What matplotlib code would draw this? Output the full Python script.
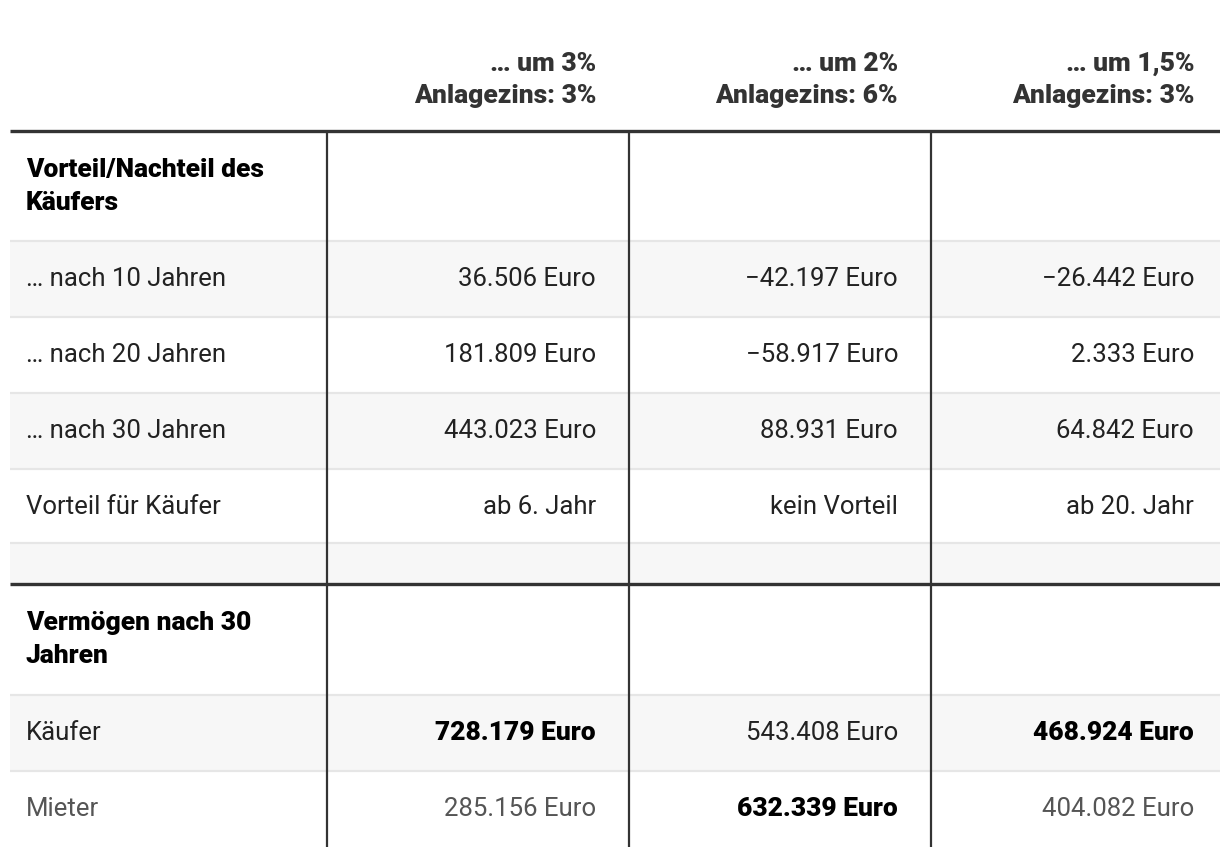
import matplotlib
matplotlib.use("Agg")
import matplotlib.pyplot as plt
from matplotlib.patches import Rectangle

plt.rcParams['font.family'] = ['Roboto', 'DejaVu Sans']

# ---------------- data ----------------
col_head_1 = ['… um 3%', '… um 2%', '… um 1,5%']
col_head_2 = ['Anlagezins: 3%', 'Anlagezins: 6%', 'Anlagezins: 3%']

section_1 = ['Vorteil/Nachteil des', 'Käufers']
diff_labels = ['… nach 10 Jahren', '… nach 20 Jahren', '… nach 30 Jahren']
diff_10 = [36506, -42197, -26442]
diff_20 = [181809, -58917, 2333]
diff_30 = [443023, 88931, 64842]
advantage_label = 'Vorteil für Käufer'
advantage = ['ab 6. Jahr', 'kein Vorteil', 'ab 20. Jahr']

section_2 = ['Vermögen nach 30', 'Jahren']
wealth_labels = ['Käufer', 'Mieter']
wealth_buyer = [728179, 543408, 468924]
wealth_renter = [285156, 632339, 404082]


def fmt(v):
    s = f"{abs(v):,}".replace(',', '.')
    return ('\u2212' if v < 0 else '') + s + ' Euro'


# ---------------- layout ----------------
W, H = 1220, 856
fig = plt.figure(figsize=(W / 100, H / 100), dpi=100)
ax = fig.add_axes([0, 0, 1, 1])
ax.set_xlim(0, W)
ax.set_ylim(H, 0)
ax.axis('off')

x_left = 10
x_right = W
col_edges = [327, 629, 931]
col_text_right = [596, 898, 1194]
label_x = 26

DARK = '#333333'
TEXT = '#222222'
LIGHT_TEXT = '#555555'
GRID = '#e6e6e6'
ROW_BG = '#f7f7f7'
FS = 19
FS_BODY = 18.5
BOLD = 'heavy'
LIGHTW = 'normal'

# header
for i in range(3):
    ax.text(col_text_right[i], 71, col_head_1[i], ha='right', va='baseline',
            fontsize=FS, fontweight=BOLD, color=DARK)
    ax.text(col_text_right[i], 103, col_head_2[i], ha='right', va='baseline',
            fontsize=FS, fontweight=BOLD, color=DARK)

# rows: (kind, top, bottom, label, values, shaded)
rows = []
rows.append(('section', 131, 241, section_1, None, False))
diff_values = [diff_10, diff_20, diff_30]
tops = [241, 317, 393]
for k in range(3):
    rows.append(('body', tops[k], tops[k] + 76, diff_labels[k],
                 [fmt(v) for v in diff_values[k]], k % 2 == 0))
rows.append(('body', 469, 543, advantage_label, advantage, False))
rows.append(('empty', 543, 584, None, None, True))
rows.append(('section', 584, 695, section_2, None, False))
rows.append(('wealth', 695, 771, wealth_labels[0], wealth_buyer, True))
rows.append(('wealth', 771, 847, wealth_labels[1], wealth_renter, False))

for kind, top, bot, label, vals, shaded in rows:
    if shaded:
        ax.add_patch(Rectangle((x_left, top), x_right - x_left, bot - top,
                               facecolor=ROW_BG, edgecolor='none', zorder=0))
    if kind == 'section':
        ax.text(label_x, top + 46, label[0], ha='left', va='baseline',
                fontsize=FS, fontweight=BOLD, color='#000000')
        ax.text(label_x, top + 79, label[1], ha='left', va='baseline',
                fontsize=FS, fontweight=BOLD, color='#000000')
    elif kind == 'body':
        ax.text(label_x, top + 45, label, ha='left', va='baseline',
                fontsize=FS_BODY, fontweight=LIGHTW, color=TEXT)
        for i in range(3):
            ax.text(col_text_right[i], top + 45, vals[i], ha='right', va='baseline',
                    fontsize=FS_BODY, fontweight=LIGHTW, color=TEXT)
    elif kind == 'wealth':
        is_renter = label == wealth_labels[1]
        c = LIGHT_TEXT if is_renter else TEXT
        ax.text(label_x, top + 45, label, ha='left', va='baseline',
                fontsize=FS_BODY, fontweight=LIGHTW, color=c)
        for i in range(3):
            other = wealth_buyer[i] if is_renter else wealth_renter[i]
            best = vals[i] > other
            ax.text(col_text_right[i], top + 45, fmt(vals[i]), ha='right', va='baseline',
                    fontsize=FS if best else FS_BODY,
                    fontweight=BOLD if best else LIGHTW,
                    color='#000000' if best else c)

# light row separators
for y in [241, 317, 393, 469, 543, 695, 771]:
    ax.plot([x_left, x_right], [y, y], color=GRID, lw=1.6, zorder=1,
            solid_capstyle='butt')

# thick separators
for y in [131, 584]:
    ax.plot([x_left, x_right], [y, y], color=DARK, lw=2.4, zorder=3,
            solid_capstyle='butt')

# vertical lines
for x in col_edges:
    ax.plot([x, x], [131, 847], color=DARK, lw=1.6, zorder=2,
            solid_capstyle='butt')

fig.savefig('out.png', dpi=100)
